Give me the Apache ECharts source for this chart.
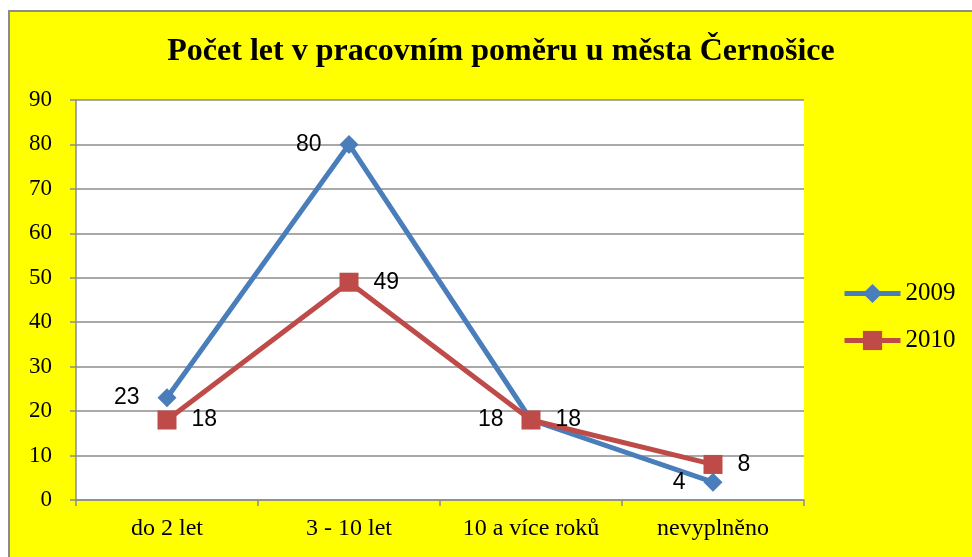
<!DOCTYPE html>
<html>
<head>
<meta charset="utf-8">
<script src="https://cdn.jsdelivr.net/npm/echarts@6/dist/echarts.min.js"></script>
<style>
    html, body { margin: 0; padding: 0; background: #fff; }
    #frame {
        position: absolute; left: 8px; top: 10px; width: 970px; height: 552px;
        background: #ffff00; border-left: 2px solid #8c8c8c; border-top: 2px solid #8c8c8c;
    }
    #chart { position: absolute; left: 0; top: 0; width: 972px; height: 557px; }
</style>
</head>
<body>
<div id="frame"></div>
<div id="chart"></div>
<script>
var categories = ['do 2 let', '3 - 10 let', '10 a více roků', 'nevyplněno'];
var values2009 = [23, 80, 18, 4];
var values2010 = [18, 49, 18, 8];
var yTicks = { min: 0, max: 90, interval: 10 };

var chart = echarts.init(document.getElementById('chart'));

var serif = '"Liberation Serif", "DejaVu Serif", serif';
var sans = '"Liberation Sans", "DejaVu Sans", sans-serif';

var option = {
    backgroundColor: 'transparent',
    title: {
        text: 'Počet let v pracovním poměru u města Černošice',
        left: 496,
        textAlign: 'center',
        top: 31,
        textStyle: {
            fontFamily: serif,
            fontWeight: 'bold',
            fontSize: 32,
            color: '#000'
        }
    },
    legend: {
        orient: 'vertical',
        left: 842,
        top: 281,
        padding: 0,
        itemWidth: 56,
        itemHeight: 24,
        itemGap: 22,
        lineStyle: { width: 5 },
        textStyle: { fontFamily: serif, fontSize: 25, color: '#000' },
        data: ['2009', '2010']
    },
    grid: {
        left: 76,
        right: 168,
        top: 100,
        bottom: 57,
        show: true,
        backgroundColor: '#fff',
        borderWidth: 0
    },
    xAxis: {
        type: 'category',
        data: categories,
        boundaryGap: true,
        axisLine: { lineStyle: { color: '#8c8c8c', width: 1.5 } },
        axisTick: { show: true, interval: 0, length: 6, lineStyle: { color: '#8c8c8c', width: 1.5 } },
        axisLabel: { interval: 0, hideOverlap: false, fontFamily: serif, fontSize: 24, color: '#000', margin: 17 }
    },
    yAxis: {
        type: 'value',
        min: yTicks.min,
        max: yTicks.max,
        interval: yTicks.interval,
        axisLine: { show: true, lineStyle: { color: '#8c8c8c', width: 1.5 } },
        axisTick: { show: true, length: 6, lineStyle: { color: '#8c8c8c', width: 1.5 } },
        splitLine: { lineStyle: { color: '#8c8c8c', width: 1.5 } },
        axisLabel: { fontFamily: serif, fontSize: 23, color: '#000', margin: 24 }
    },
    series: [{
        name: '2009',
        type: 'line',
        data: values2009,
        symbol: 'diamond',
        symbolSize: 19,
        itemStyle: { color: '#4a7ebb' },
        lineStyle: { color: '#4a7ebb', width: 5 },
        label: {
            show: true,
            position: 'left',
            distance: 18,
            fontFamily: sans,
            fontSize: 23,
            color: '#000'
        },
        z: 3
    }, {
        name: '2010',
        type: 'line',
        data: values2010,
        symbol: 'rect',
        symbolSize: 19,
        itemStyle: { color: '#be4b48' },
        lineStyle: { color: '#be4b48', width: 5 },
        label: {
            show: true,
            position: 'right',
            distance: 15,
            fontFamily: sans,
            fontSize: 23,
            color: '#000'
        },
        z: 4
    }]
};
chart.setOption(option);
</script>
</body>
</html>
